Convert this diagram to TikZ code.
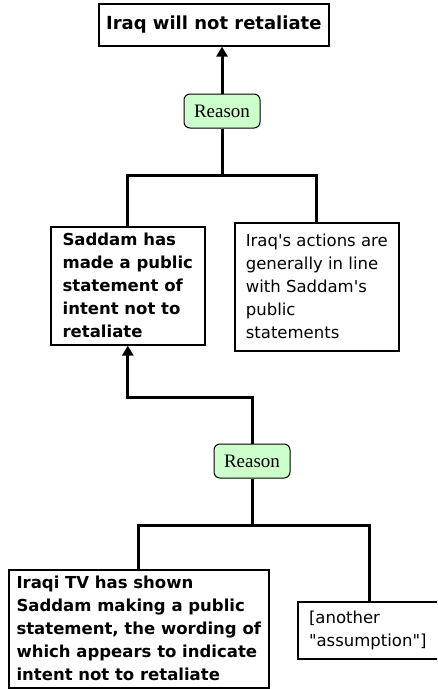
\documentclass[tikz,border=0pt]{standalone}
\usepackage{fontspec}
\setmainfont{DejaVu Sans}
\newfontfamily\reasonfont{Liberation Serif}
\usetikzlibrary{arrows.meta}
\definecolor{reasongreen}{RGB}{204,255,204}

\begin{document}
\begin{tikzpicture}[x=1pt,y=-1pt,
    claimbox/.style={draw, line width=1.6pt, align=left, inner sep=0pt, anchor=north west,
        font=\fontsize{16.5}{23}\selectfont},
    heavy/.style={font=\bfseries\fontsize{16.5}{23}\selectfont},
    reasonbox/.style={draw, line width=1pt, rounded corners=6pt, fill=reasongreen, inner sep=0pt,
        minimum width=76pt, minimum height=34pt, font=\reasonfont\fontsize{19}{20}\selectfont},
    link/.style={line width=3pt},
    pointer/.style={link, -{Triangle[length=10pt,width=11pt]}}]
  \useasboundingbox (0,0) rectangle (437,689);
  \clip (0,0) rectangle (437,689);
  % claims and reasons
  \node[claimbox, minimum width=230pt, minimum height=42pt, font=\bfseries\fontsize{18}{22}\selectfont] (claim) at (98,3) {Iraq will not retaliate};
  \node[reasonbox] (reasonA) at (222,111) {Reason};
  \node[claimbox, heavy, minimum width=154pt, minimum height=118pt] (saddam) at (50,226) {Saddam has\\made a public\\statement of\\intent not to\\retaliate};
  \node[claimbox, minimum width=164pt, minimum height=128pt] (actions) at (234,222) {Iraq\textquotesingle s actions are\\generally in line\\with Saddam\textquotesingle s\\public\\statements};
  \node[reasonbox] (reasonB) at (252,461) {Reason};
  \node[claimbox, heavy, minimum width=260pt, minimum height=118pt] (tv) at (8,569) {Iraqi TV has shown\\Saddam making a public\\statement, the wording of\\which appears to indicate\\intent not to retaliate};
  \node[claimbox, minimum width=144pt, minimum height=57pt] (another) at (297,601) {[another\hspace*{4pt}\\\textquotedbl assumption\textquotedbl]\hspace*{4pt}};
  % connectors
  \coordinate (forkA) at (222,175);
  \coordinate (joinB) at (252,397);
  \coordinate (forkB) at (252,525);
  \draw[pointer] (reasonA.north) -- (reasonA.north |- claim.south);
  \draw[link] (reasonA.south) -- (forkA);
  \draw[link] (saddam.north) |- (forkA) -| (actions.north);
  \draw[pointer] (reasonB.north) -- (joinB) -| (saddam.south);
  \draw[link] (reasonB.south) -- (forkB);
  \draw[link] (tv.north) |- (forkB) -| (another.north);
\end{tikzpicture}
\end{document}
